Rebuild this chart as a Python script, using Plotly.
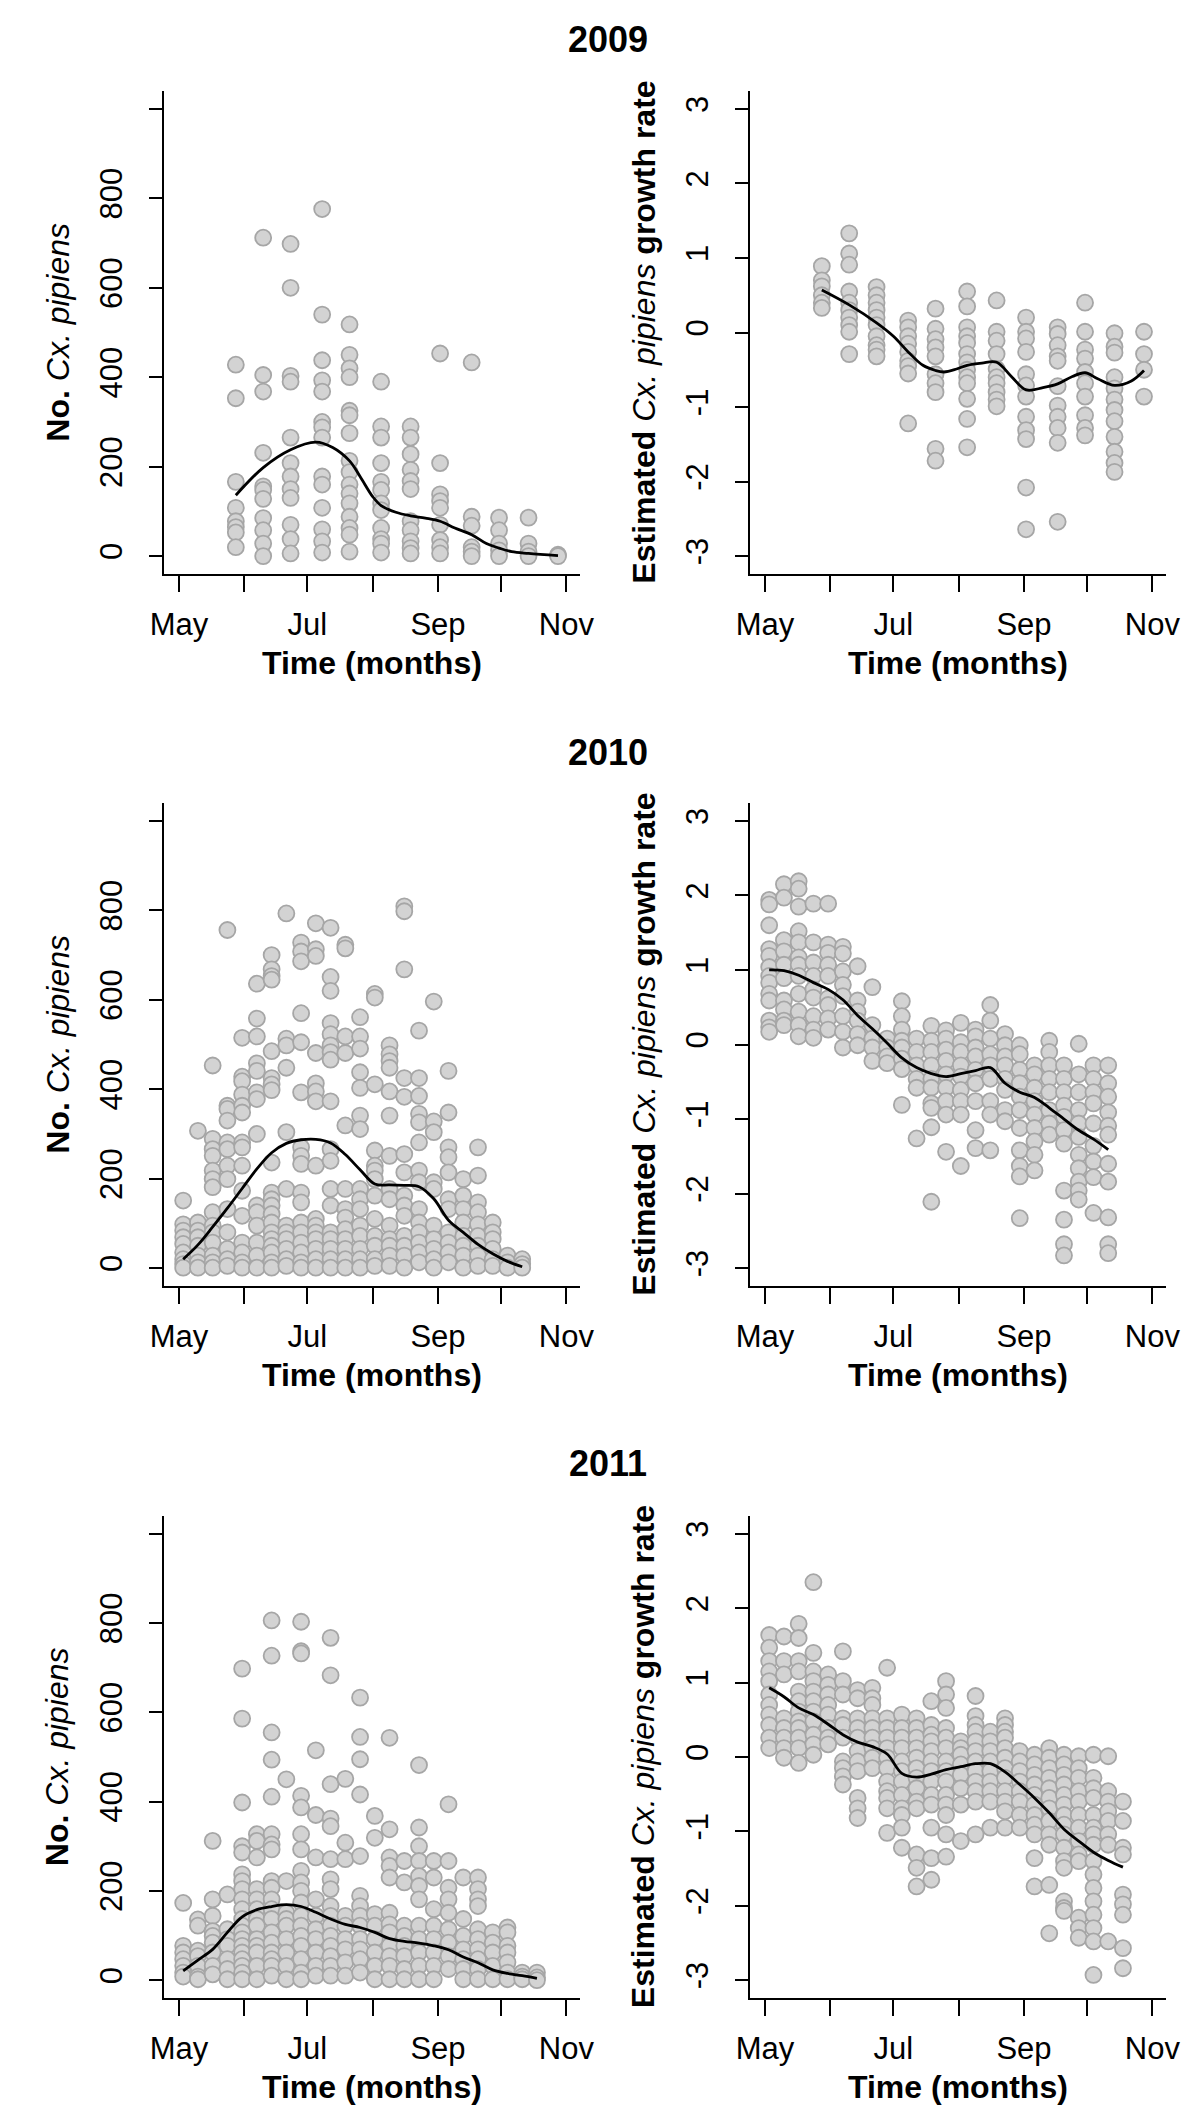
import plotly.graph_objects as go

# ---------------- data ----------------
years = [2009, 2010, 2011]

# 2009 (sampling roughly every two weeks)
dates_2009 = ["2009-05-28", "2009-06-10", "2009-06-23", "2009-07-08", "2009-07-21", "2009-08-05",
              "2009-08-19", "2009-09-02", "2009-09-17", "2009-09-30", "2009-10-14", "2009-10-28"]
counts_2009 = [
    [428, 353, 166, 108, 78, 65, 53, 20],
    [712, 405, 368, 231, 156, 148, 128, 85, 58, 28, 0],
    [698, 600, 403, 390, 265, 208, 178, 150, 130, 70, 38, 6],
    [776, 540, 438, 393, 368, 300, 288, 265, 178, 160, 108, 60, 33, 8],
    [518, 450, 420, 400, 325, 315, 275, 213, 188, 160, 140, 118, 88, 63, 48, 10],
    [390, 290, 265, 208, 166, 148, 118, 103, 63, 38, 28, 8],
    [290, 265, 228, 193, 168, 150, 78, 58, 33, 18, 6],
    [453, 208, 138, 123, 108, 70, 36, 20, 6],
    [433, 88, 68, 20, 10, 0],
    [86, 58, 28, 13, 0],
    [86, 28, 10, 0],
    [3, 0],
]
growth_2009 = [
    [0.89, 0.70, 0.62, 0.50, 0.40, 0.33],
    [1.33, 1.06, 0.91, 0.55, 0.40, 0.30, 0.20, 0.10, 0.01, -0.29],
    [0.61, 0.50, 0.40, 0.30, 0.20, 0.10, -0.05, -0.17, -0.23, -0.32],
    [0.16, 0.07, -0.05, -0.15, -0.26, -0.38, -0.45, -0.55, -1.22],
    [0.32, 0.05, -0.09, -0.20, -0.32, -0.56, -0.68, -0.80, -1.56, -1.72],
    [0.55, 0.35, 0.07, -0.05, -0.14, -0.29, -0.40, -0.50, -0.60, -0.68, -0.89, -1.16, -1.54],
    [0.43, 0.01, -0.11, -0.29, -0.49, -0.60, -0.68, -0.80, -0.90, -0.99],
    [0.20, 0.01, -0.08, -0.26, -0.56, -0.71, -0.86, -1.13, -1.31, -1.43, -2.08, -2.64],
    [0.07, -0.02, -0.17, -0.32, -0.38, -0.72, -0.98, -1.13, -1.28, -1.48, -2.54],
    [0.40, 0.01, -0.23, -0.35, -0.53, -0.68, -0.86, -1.11, -1.28, -1.38],
    [-0.01, -0.19, -0.27, -0.60, -0.75, -0.90, -1.04, -1.19, -1.40, -1.60, -1.75, -1.87],
    [0.01, -0.29, -0.50, -0.86],
]
count_fit_dates_2009 = ["2009-05-28", "2009-06-10", "2009-06-23", "2009-07-05", "2009-07-13", "2009-07-21",
                        "2009-07-26", "2009-08-01", "2009-08-05", "2009-08-12", "2009-08-19", "2009-08-26",
                        "2009-09-02", "2009-09-09", "2009-09-17", "2009-09-24", "2009-09-30", "2009-10-06",
                        "2009-10-14", "2009-10-28"]
count_fit_2009 = [136, 198, 238, 255, 243, 213, 178, 133, 113, 98, 90, 85, 78, 63, 48, 28, 18, 10, 6, 1]
growth_fit_dates_2009 = ["2009-05-28", "2009-06-10", "2009-06-23", "2009-07-01", "2009-07-08", "2009-07-15",
                         "2009-07-21", "2009-07-25", "2009-07-31", "2009-08-05", "2009-08-12", "2009-08-19",
                         "2009-08-26", "2009-09-02", "2009-09-10", "2009-09-17", "2009-09-24", "2009-09-30",
                         "2009-10-06", "2009-10-14", "2009-10-22", "2009-10-28"]
growth_fit_2009 = [0.57, 0.37, 0.13, -0.05, -0.26, -0.44, -0.51, -0.53, -0.49, -0.44, -0.41, -0.40,
                   -0.59, -0.77, -0.74, -0.69, -0.59, -0.54, -0.62, -0.71, -0.65, -0.51]

# 2010 (weekly sampling)
dates_2010 = ["2010-05-03", "2010-05-10", "2010-05-17", "2010-05-24", "2010-05-31", "2010-06-07",
              "2010-06-14", "2010-06-21", "2010-06-28", "2010-07-05", "2010-07-12", "2010-07-19",
              "2010-07-26", "2010-08-02", "2010-08-09", "2010-08-16", "2010-08-23", "2010-08-30",
              "2010-09-06", "2010-09-13", "2010-09-20", "2010-09-27", "2010-10-04", "2010-10-11"]
counts_2010 = [
    [151, 98, 84, 69, 54, 35, 20, 9, 1],
    [307, 102, 84, 69, 50, 28, 13, 1],
    [453, 289, 266, 251, 218, 199, 181, 125, 95, 80, 57, 28, 13, 1],
    [756, 363, 356, 330, 281, 266, 229, 199, 132, 80, 43, 20, 5],
    [515, 428, 418, 388, 363, 348, 281, 270, 229, 173, 117, 57, 35, 13, 1],
    [636, 558, 518, 458, 441, 393, 378, 300, 140, 125, 95, 57, 28, 1],
    [700, 668, 653, 645, 485, 425, 411, 398, 236, 169, 154, 140, 121, 102, 80, 65, 50, 35, 13, 1],
    [793, 513, 498, 448, 304, 177, 95, 80, 65, 43, 20, 5],
    [728, 708, 686, 570, 505, 393, 270, 251, 233, 169, 147, 102, 80, 57, 35, 13, 1],
    [771, 713, 698, 481, 413, 395, 373, 229, 110, 95, 80, 65, 43, 20, 1],
    [761, 651, 620, 548, 523, 498, 483, 466, 373, 266, 240, 177, 140, 80, 65, 43, 20, 1],
    [723, 715, 518, 481, 319, 177, 132, 113, 87, 65, 43, 20, 1],
    [561, 518, 491, 438, 403, 341, 311, 177, 154, 132, 95, 72, 43, 20, 1],
    [613, 605, 411, 263, 229, 218, 199, 162, 110, 72, 50, 20, 5],
    [498, 478, 463, 448, 395, 341, 251, 177, 154, 95, 65, 50, 28, 5],
    [809, 798, 668, 425, 383, 255, 214, 162, 140, 117, 72, 50, 28, 1],
    [531, 425, 385, 345, 326, 281, 218, 192, 132, 102, 80, 57, 35, 13],
    [596, 328, 304, 192, 177, 95, 65, 43, 20, 1],
    [441, 348, 270, 248, 214, 154, 132, 80, 57, 35, 13],
    [199, 162, 132, 102, 72, 50, 28, 1],
    [270, 207, 147, 125, 98, 72, 50, 28, 5],
    [102, 80, 65, 43, 20, 5],
    [28, 13, 1],
    [20, 9, 1],
]
growth_2010 = [
    [1.94, 1.88, 1.60, 1.28, 1.19, 1.04, 0.92, 0.83, 0.68, 0.59, 0.32, 0.23, 0.17],
    [2.15, 1.97, 1.40, 1.25, 1.07, 0.89, 0.59, 0.47, 0.32, 0.26],
    [2.19, 2.09, 1.85, 1.52, 1.37, 1.17, 1.07, 0.92, 0.68, 0.44, 0.26, 0.11],
    [1.89, 1.37, 1.10, 0.92, 0.74, 0.63, 0.38, 0.20, 0.09],
    [1.89, 1.34, 1.23, 1.07, 0.92, 0.62, 0.53, 0.35, 0.20],
    [1.31, 1.22, 0.98, 0.80, 0.65, 0.38, 0.17, -0.04],
    [1.05, 0.59, 0.44, 0.32, 0.14, -0.01],
    [0.77, 0.26, 0.08, -0.04, -0.22],
    [0.08, -0.04, -0.16, -0.25],
    [0.58, 0.38, 0.20, 0.05, -0.04, -0.19, -0.33, -0.81],
    [0.08, -0.10, -0.28, -0.46, -0.58, -1.26],
    [0.25, 0.05, -0.10, -0.28, -0.46, -0.58, -0.79, -0.85, -1.11, -2.11],
    [0.19, 0.08, -0.07, -0.22, -0.40, -0.58, -0.76, -0.94, -1.44],
    [0.29, 0.03, -0.10, -0.28, -0.43, -0.61, -0.76, -0.94, -1.63],
    [0.20, 0.11, -0.04, -0.16, -0.34, -0.52, -0.76, -1.15, -1.39],
    [0.53, 0.32, 0.08, -0.13, -0.28, -0.46, -0.76, -0.94, -1.42],
    [0.14, -0.01, -0.16, -0.28, -0.46, -0.61, -0.88, -1.03],
    [-0.01, -0.13, -0.34, -0.52, -0.70, -0.88, -1.12, -1.42, -1.63, -1.77, -2.33],
    [-0.28, -0.40, -0.58, -0.76, -0.94, -1.12, -1.30, -1.48, -1.69],
    [0.05, -0.10, -0.28, -0.46, -0.64, -0.88, -1.06, -1.21],
    [-0.28, -0.46, -0.64, -0.82, -0.97, -1.15, -1.33, -1.96, -2.35, -2.68, -2.83],
    [0.01, -0.40, -0.64, -0.88, -1.06, -1.24, -1.48, -1.66, -1.84, -1.96, -2.08],
    [-0.28, -0.46, -0.64, -0.79, -1.06, -1.36, -1.57, -1.78, -2.26],
    [-0.28, -0.52, -0.70, -0.91, -1.09, -1.21, -1.60, -1.84, -2.32, -2.68, -2.80],
]
count_fit_2010 = [20, 52, 92, 134, 178, 222, 258, 279, 287, 288, 280, 254, 220, 188, 186, 185, 182,
                  155, 107, 80, 53, 32, 15, 3]
growth_fit_2010 = [1.00, 0.99, 0.93, 0.83, 0.74, 0.60, 0.39, 0.21, 0.02, -0.18, -0.31, -0.39, -0.43,
                   -0.39, -0.35, -0.31, -0.52, -0.64, -0.71, -0.85, -1.00, -1.15, -1.27, -1.41]

# 2011 (weekly sampling)
dates_2011 = ["2011-05-03", "2011-05-10", "2011-05-17", "2011-05-24", "2011-05-31", "2011-06-07",
              "2011-06-14", "2011-06-21", "2011-06-28", "2011-07-05", "2011-07-12", "2011-07-19",
              "2011-07-26", "2011-08-02", "2011-08-09", "2011-08-16", "2011-08-23", "2011-08-30",
              "2011-09-06", "2011-09-13", "2011-09-20", "2011-09-27", "2011-10-04", "2011-10-11",
              "2011-10-18"]
counts_2011 = [
    [173, 77, 62, 47, 32, 17, 8],
    [136, 122, 66, 54, 32, 8, 2],
    [312, 181, 144, 110, 99, 84, 62, 32, 13],
    [192, 114, 92, 77, 47, 25, 2],
    [698, 586, 398, 300, 286, 237, 222, 204, 181, 159, 137, 122, 107, 92, 77, 62, 47, 32, 17, 2],
    [327, 312, 275, 204, 181, 159, 137, 122, 92, 77, 62, 32, 2],
    [806, 727, 555, 494, 411, 327, 304, 293, 222, 207, 181, 159, 137, 107, 84, 62, 47, 32, 10],
    [450, 222, 151, 137, 122, 92, 62, 32, 2],
    [803, 737, 732, 413, 387, 327, 293, 245, 219, 200, 174, 144, 122, 99, 77, 47, 17, 2],
    [515, 370, 275, 181, 144, 114, 92, 62, 32, 10],
    [767, 683, 439, 362, 345, 271, 226, 204, 166, 144, 122, 99, 77, 54, 32, 10],
    [451, 308, 271, 144, 122, 92, 69, 40, 10],
    [633, 545, 495, 416, 278, 189, 166, 144, 122, 92, 69, 47, 17],
    [368, 319, 148, 122, 92, 62, 32, 2],
    [543, 338, 275, 256, 230, 151, 125, 107, 77, 54, 32, 2],
    [267, 219, 122, 99, 77, 54, 25, 2],
    [482, 342, 300, 267, 233, 211, 181, 122, 92, 62, 32, 2],
    [267, 230, 159, 122, 92, 62, 32, 2],
    [394, 267, 207, 181, 151, 114, 84, 54, 25],
    [230, 137, 99, 69, 47, 25, 2],
    [230, 204, 181, 166, 114, 92, 69, 47, 25, 2],
    [107, 84, 62, 32, 2],
    [118, 107, 77, 62, 40, 17, 2],
    [17, 8, 2],
    [17, 6, 0],
]
growth_2011 = [
    [1.64, 1.47, 1.29, 1.15, 1.02, 0.84, 0.70, 0.57, 0.43, 0.26, 0.12],
    [1.62, 1.29, 1.11, 0.52, 0.39, 0.26, 0.12, -0.01],
    [1.79, 1.60, 1.29, 1.15, 0.88, 0.75, 0.61, 0.48, 0.39, 0.26, 0.12, -0.08],
    [2.35, 1.40, 1.15, 1.02, 0.88, 0.75, 0.61, 0.48, 0.30, 0.17, 0.03],
    [1.11, 0.97, 0.84, 0.70, 0.57, 0.39, 0.26, 0.17],
    [1.42, 1.02, 0.84, 0.52, 0.43, 0.26, -0.06, -0.15, -0.26, -0.37],
    [0.90, 0.79, 0.52, 0.39, 0.26, 0.08, -0.06, -0.19, -0.55, -0.69, -0.82],
    [0.93, 0.79, 0.70, 0.52, 0.39, 0.26, 0.12, -0.01, -0.15],
    [1.20, 0.52, 0.39, 0.26, 0.12, -0.01, -0.15, -0.33, -0.46, -0.55, -0.69, -1.02],
    [0.57, 0.39, 0.26, 0.12, -0.06, -0.19, -0.33, -0.51, -0.69, -0.78, -0.95, -1.22],
    [0.52, 0.39, 0.26, 0.12, -0.01, -0.15, -0.28, -0.42, -0.60, -0.69, -1.31, -1.49, -1.74],
    [0.75, 0.43, 0.30, 0.21, 0.08, -0.06, -0.19, -0.33, -0.51, -0.64, -0.95, -1.36, -1.65],
    [1.02, 0.84, 0.66, 0.39, 0.26, 0.12, -0.06, -0.19, -0.33, -0.51, -0.64, -0.78, -1.04, -1.34],
    [0.21, 0.12, 0.03, -0.10, -0.24, -0.42, -0.64, -1.13],
    [0.82, 0.55, 0.43, 0.34, 0.21, 0.08, -0.06, -0.19, -0.33, -0.46, -0.60, -1.04],
    [0.34, 0.21, 0.08, -0.06, -0.19, -0.33, -0.46, -0.60, -0.95],
    [0.52, 0.43, 0.34, 0.26, 0.12, -0.01, -0.15, -0.28, -0.46, -0.60, -0.73, -0.95],
    [0.08, -0.06, -0.19, -0.33, -0.46, -0.60, -0.78, -0.95],
    [0.03, -0.10, -0.24, -0.37, -0.51, -0.64, -0.78, -0.91, -1.04, -1.36, -1.74],
    [0.12, -0.01, -0.15, -0.28, -0.42, -0.55, -0.69, -0.86, -1.04, -1.18, -1.72, -2.37],
    [0.03, -0.10, -0.24, -0.37, -0.51, -0.64, -0.78, -0.91, -1.04, -1.22, -1.40, -1.49, -1.94, -2.03, -2.07],
    [0.01, -0.15, -0.28, -0.46, -0.60, -0.78, -0.95, -1.13, -1.31, -1.40, -2.16, -2.30, -2.43],
    [0.03, -0.28, -0.42, -0.55, -0.78, -0.95, -1.04, -1.18, -1.40, -1.58, -1.76, -1.94, -2.12, -2.30, -2.48, -2.93],
    [0.01, -0.46, -0.60, -0.73, -0.86, -1.04, -1.18, -2.48],
    [-0.60, -0.86, -1.22, -1.31, -1.85, -1.98, -2.12, -2.57, -2.84],
]
count_fit_2011 = [21, 45, 69, 107, 142, 158, 165, 169, 165, 152, 137, 125, 118, 107, 93, 87, 83, 77,
                  68, 52, 39, 23, 15, 10, 4]
growth_fit_2011 = [0.93, 0.81, 0.66, 0.57, 0.44, 0.30, 0.20, 0.14, 0.04, -0.22, -0.27, -0.23, -0.17,
                   -0.13, -0.09, -0.09, -0.20, -0.37, -0.55, -0.75, -0.97, -1.13, -1.28, -1.39, -1.48]

month_labels = ["May", "", "Jul", "", "Sep", "", "Nov"]
month_days = ["05-01", "06-01", "07-01", "08-01", "09-01", "10-01", "11-01"]
count_ticks = [0, 200, 400, 600, 800, 1000]
count_tick_labels = ["0", "200", "400", "600", "800", ""]
growth_ticks = [-3, -2, -1, 0, 1, 2, 3]

panels = {
    2009: dict(dates=dates_2009, counts=counts_2009, growth=growth_2009,
               cfit_x=count_fit_dates_2009, cfit=count_fit_2009,
               gfit_x=growth_fit_dates_2009, gfit=growth_fit_2009),
    2010: dict(dates=dates_2010, counts=counts_2010, growth=growth_2010,
               cfit_x=dates_2010, cfit=count_fit_2010, gfit_x=dates_2010, gfit=growth_fit_2010),
    2011: dict(dates=dates_2011, counts=counts_2011, growth=growth_2011,
               cfit_x=dates_2011, cfit=count_fit_2011, gfit_x=dates_2011, gfit=growth_fit_2011),
}

# ---------------- layout constants ----------------
W, H = 1200, 2115
FONT = "Liberation Sans, Arial, sans-serif"
PT_FILL = "#d3d3d3"
PT_LINE = "#a6a6a6"

x_dom = [[145 / W, 571 / W], [745 / W, 1171 / W]]
row_px = [(83, 566), (795, 1278), (1508, 1990)]
title_px = [31, 744, 1455]
xtitle_px = [655, 1367, 2079]


def py(px):
    return 1 - px / H


fig = go.Figure()
layout = dict(
    width=W, height=H, margin=dict(l=0, r=0, t=0, b=0),
    paper_bgcolor="white", plot_bgcolor="white", showlegend=False,
    font=dict(family=FONT, size=31, color="black"),
    annotations=[],
)

axis_i = 0
for r, yr in enumerate(years):
    p = panels[yr]
    top, bot = row_px[r]
    ydom = [py(bot), py(top)]
    for c in range(2):
        axis_i += 1
        xa = "xaxis" if axis_i == 1 else f"xaxis{axis_i}"
        ya = "yaxis" if axis_i == 1 else f"yaxis{axis_i}"
        xr = "x" if axis_i == 1 else f"x{axis_i}"
        yref = "y" if axis_i == 1 else f"y{axis_i}"

        vals = p["counts"] if c == 0 else p["growth"]
        xs, ys = [], []
        for d, col in zip(p["dates"], vals):
            for v in col:
                xs.append(d)
                ys.append(v)
        fig.add_trace(go.Scatter(
            x=xs, y=ys, mode="markers", xaxis=xr, yaxis=yref,
            marker=dict(size=16, color=PT_FILL, line=dict(color=PT_LINE, width=1.8)),
            hoverinfo="skip"))
        fx = p["cfit_x"] if c == 0 else p["gfit_x"]
        fy = p["cfit"] if c == 0 else p["gfit"]
        fig.add_trace(go.Scatter(
            x=fx, y=fy, mode="lines", xaxis=xr, yaxis=yref,
            line=dict(color="black", width=2.8, shape="spline", smoothing=1.0),
            hoverinfo="skip"))

        layout[xa] = dict(
            domain=x_dom[c], anchor=yref, type="date",
            range=[f"{yr}-04-23 17:00", f"{yr}-11-07 07:00"],
            tickmode="array", tickvals=[f"{yr}-{m}" for m in month_days], ticktext=month_labels,
            showline=True, linecolor="black", linewidth=2, mirror=False,
            ticks="outside", ticklen=16, tickwidth=2, tickcolor="black",
            showgrid=False, zeroline=False, ticklabelstandoff=6,
            tickfont=dict(family=FONT, size=31, color="black"),
        )
        if c == 0:
            yrange = [-40, 1040]
            tv, tt = count_ticks, count_tick_labels
        else:
            yrange = [-3.24, 3.24]
            tv, tt = growth_ticks, [str(t) for t in growth_ticks]
        layout[ya] = dict(
            domain=ydom, anchor=xr, range=yrange,
            tickmode="array", tickvals=tv, ticktext=tt, tickangle=-90,
            showline=True, linecolor="black", linewidth=2, mirror=False,
            ticks="outside", ticklen=13, tickwidth=2, tickcolor="black",
            showgrid=False, zeroline=False, ticklabelstandoff=14,
            tickfont=dict(family=FONT, size=31, color="black"),
        )

        # axis titles as annotations
        ytxt = ("<b>No.</b> <i>Cx. pipiens</i>" if c == 0
                else "<b>Estimated</b> <i>Cx. pipiens</i> <b>growth rate</b>")
        layout["annotations"].append(dict(
            text=ytxt, xref="paper", yref="paper", x=(36 + 600 * c) / W, y=py((top + bot) / 2),
            xanchor="center", yanchor="middle", textangle=-90, showarrow=False,
            font=dict(family=FONT, size=32, color="black")))
        layout["annotations"].append(dict(
            text="<b>Time (months)</b>", xref="paper", yref="paper",
            x=(358 + 600 * c) / W, y=py(xtitle_px[r]),
            xanchor="center", yanchor="middle", showarrow=False,
            font=dict(family=FONT, size=32, color="black")))

    layout["annotations"].append(dict(
        text=f"<b>{yr}</b>", xref="paper", yref="paper", x=0.5, y=py(title_px[r]),
        xanchor="center", yanchor="middle", showarrow=False,
        font=dict(family=FONT, size=36, color="black")))

fig.update_layout(**layout)
fig.write_html("out.html")
